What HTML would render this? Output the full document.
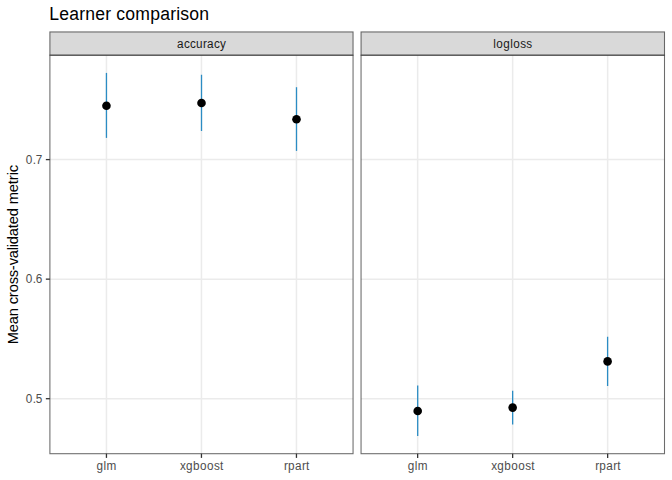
<!DOCTYPE html>
<html><head><meta charset="utf-8"><style>html,body{margin:0;padding:0;background:#fff;width:672px;height:480px;overflow:hidden}body{position:relative}</style></head><body>
<svg width="672" height="480" viewBox="0 0 672 480" style="position:absolute;left:0;top:0">
<rect x="0" y="0" width="672" height="480" fill="#FFFFFF"/>
<text x="49.20 59.20 69.20 79.20 85.20 95.20 105.20 111.20 116.20 125.20 135.20 150.20 160.20 170.20 176.20 180.20 189.20 199.20" y="20.00" font-family='"Liberation Sans", sans-serif' font-size="17.6" fill="#000">Learner comparison</text>
<rect x="49.9" y="31.95" width="303.15" height="23.25" fill="#D9D9D9"/>
<rect x="361.05" y="31.95" width="303.45" height="23.25" fill="#D9D9D9"/>
<g stroke="#EBEBEB" stroke-width="1.5"><line x1="49.9" x2="353.05" y1="398.70" y2="398.70"/><line x1="49.9" x2="353.05" y1="279.15" y2="279.15"/><line x1="49.9" x2="353.05" y1="159.60" y2="159.60"/><line x1="106.45" x2="106.45" y1="55.2" y2="453.7"/><line x1="201.45" x2="201.45" y1="55.2" y2="453.7"/><line x1="296.45" x2="296.45" y1="55.2" y2="453.7"/><line x1="361.05" x2="664.5" y1="398.70" y2="398.70"/><line x1="361.05" x2="664.5" y1="279.15" y2="279.15"/><line x1="361.05" x2="664.5" y1="159.60" y2="159.60"/><line x1="417.65" x2="417.65" y1="55.2" y2="453.7"/><line x1="512.65" x2="512.65" y1="55.2" y2="453.7"/><line x1="607.65" x2="607.65" y1="55.2" y2="453.7"/></g>
<line x1="106.45" x2="106.45" y1="72.9" y2="137.9" stroke="#2B8CC4" stroke-width="1.3"/>
<line x1="201.5" x2="201.5" y1="74.75" y2="131.0" stroke="#2B8CC4" stroke-width="1.3"/>
<line x1="296.5" x2="296.5" y1="87.2" y2="150.9" stroke="#2B8CC4" stroke-width="1.3"/>
<circle cx="106.45" cy="105.7" r="4.3" fill="#000000"/>
<circle cx="201.5" cy="103.0" r="4.3" fill="#000000"/>
<circle cx="296.5" cy="119.3" r="4.3" fill="#000000"/>
<line x1="417.7" x2="417.7" y1="385.6" y2="436.0" stroke="#2B8CC4" stroke-width="1.3"/>
<line x1="512.65" x2="512.65" y1="390.8" y2="424.4" stroke="#2B8CC4" stroke-width="1.3"/>
<line x1="607.6" x2="607.6" y1="336.75" y2="386.0" stroke="#2B8CC4" stroke-width="1.3"/>
<circle cx="417.7" cy="411.0" r="4.3" fill="#000000"/>
<circle cx="512.65" cy="407.6" r="4.3" fill="#000000"/>
<circle cx="607.6" cy="361.4" r="4.3" fill="#000000"/>
<g fill="none" stroke="#333333" stroke-opacity="0.72" stroke-width="1.07"><rect x="49.9" y="55.2" width="303.15" height="398.50"/><rect x="49.9" y="31.95" width="303.15" height="23.25"/><rect x="361.05" y="55.2" width="303.45" height="398.50"/><rect x="361.05" y="31.95" width="303.45" height="23.25"/></g>
<g stroke="#333333" stroke-width="1.3"><line x1="106.45" x2="106.45" y1="453.7" y2="457.90"/><line x1="201.45" x2="201.45" y1="453.7" y2="457.90"/><line x1="296.45" x2="296.45" y1="453.7" y2="457.90"/><line x1="417.65" x2="417.65" y1="453.7" y2="457.90"/><line x1="512.65" x2="512.65" y1="453.7" y2="457.90"/><line x1="607.65" x2="607.65" y1="453.7" y2="457.90"/><line x1="45.85" x2="49.9" y1="398.70" y2="398.70"/><line x1="45.85" x2="49.9" y1="279.15" y2="279.15"/><line x1="45.85" x2="49.9" y1="159.60" y2="159.60"/></g>
<text x="176.95 183.95 189.95 195.95 202.95 206.95 213.95 219.95" y="47.70" transform="translate(0,47.70) scale(1,1.1) translate(0,-47.70)" font-family='"Liberation Sans", sans-serif' font-size="11.73" fill="#1A1A1A">accuracy</text>
<text x="96.45 103.45 106.45" y="469.70" transform="translate(0,469.70) scale(1,1.1) translate(0,-469.70)" font-family='"Liberation Sans", sans-serif' font-size="11.73" fill="#4D4D4D">glm</text>
<text x="179.95 185.95 192.95 199.95 206.95 213.95 219.95" y="469.70" transform="translate(0,469.70) scale(1,1.1) translate(0,-469.70)" font-family='"Liberation Sans", sans-serif' font-size="11.73" fill="#4D4D4D">xgboost</text>
<text x="283.95 287.95 294.95 301.95 305.95" y="469.70" transform="translate(0,469.70) scale(1,1.1) translate(0,-469.70)" font-family='"Liberation Sans", sans-serif' font-size="11.73" fill="#4D4D4D">rpart</text>
<text x="493.15 496.15 503.15 510.15 513.15 520.15 526.15" y="47.70" transform="translate(0,47.70) scale(1,1.1) translate(0,-47.70)" font-family='"Liberation Sans", sans-serif' font-size="11.73" fill="#1A1A1A">logloss</text>
<text x="407.65 414.65 417.65" y="469.70" transform="translate(0,469.70) scale(1,1.1) translate(0,-469.70)" font-family='"Liberation Sans", sans-serif' font-size="11.73" fill="#4D4D4D">glm</text>
<text x="491.15 497.15 504.15 511.15 518.15 525.15 531.15" y="469.70" transform="translate(0,469.70) scale(1,1.1) translate(0,-469.70)" font-family='"Liberation Sans", sans-serif' font-size="11.73" fill="#4D4D4D">xgboost</text>
<text x="595.15 599.15 606.15 613.15 617.15" y="469.70" transform="translate(0,469.70) scale(1,1.1) translate(0,-469.70)" font-family='"Liberation Sans", sans-serif' font-size="11.73" fill="#4D4D4D">rpart</text>
<text x="25.85 32.85 35.85" y="402.90" transform="translate(0,402.90) scale(1,1.1) translate(0,-402.90)" font-family='"Liberation Sans", sans-serif' font-size="11.73" fill="#4D4D4D">0.5</text>
<text x="25.85 32.85 35.85" y="283.35" transform="translate(0,283.35) scale(1,1.1) translate(0,-283.35)" font-family='"Liberation Sans", sans-serif' font-size="11.73" fill="#4D4D4D">0.6</text>
<text x="25.85 32.85 35.85" y="163.80" transform="translate(0,163.80) scale(1,1.1) translate(0,-163.80)" font-family='"Liberation Sans", sans-serif' font-size="11.73" fill="#4D4D4D">0.7</text>
<text x="-89.50 -77.50 -69.50 -61.50 -53.50 -49.50 -42.50 -37.50 -29.50 -22.50 -15.50 -10.50 -3.50 4.50 7.50 10.50 18.50 26.50 30.50 38.50 46.50 50.50 62.50 70.50 74.50 79.50 82.50" y="0.00" transform="translate(18.2,254.7) rotate(-90)" font-family='"Liberation Sans", sans-serif' font-size="14.67" fill="#000">Mean cross-validated metric</text>
</svg>
</body></html>
